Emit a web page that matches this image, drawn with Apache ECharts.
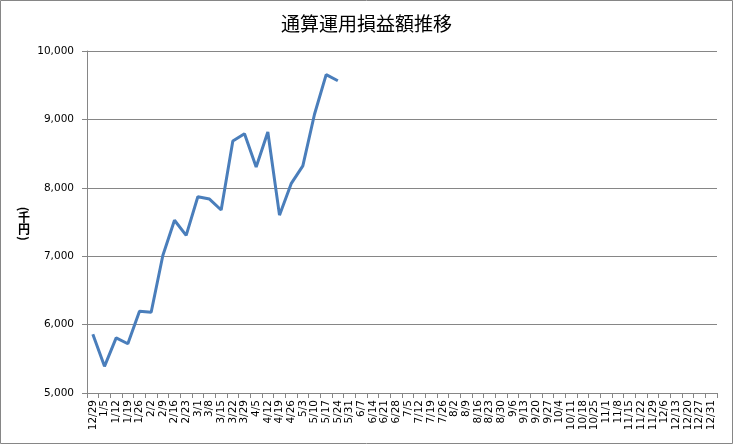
<!DOCTYPE html>
<html><head><meta charset="utf-8">
<script src="https://cdn.jsdelivr.net/npm/echarts@6/dist/echarts.min.js"></script>
<style>html,body{margin:0;padding:0;background:#fff}#c{width:733px;height:444px}</style>
</head><body><div id="c"></div>
<script>
const categories = ['12/29','1/5','1/12','1/19','1/26','2/2','2/9','2/16','2/23','3/1','3/8','3/15','3/22','3/29','4/5','4/12','4/19','4/26','5/3','5/10','5/17','5/24','5/31','6/7','6/14','6/21','6/28','7/5','7/12','7/19','7/26','8/2','8/9','8/16','8/23','8/30','9/6','9/13','9/20','9/27','10/4','10/11','10/18','10/25','11/1','11/8','11/15','11/22','11/29','12/6','12/13','12/20','12/27','12/31'];
const values = [5860,5390,5805,5720,6195,6180,7010,7525,7305,7870,7835,7675,8685,8790,8305,8815,7600,8060,8320,9075,9655,9565];
const yTicks = {min:5000, max:10000, interval:1000};
const titleText = '通算運用損益額推移';
const yNameChars = ['(', '千', '円', ')'];

const nameStyle = {fontFamily:'Noto Sans CJK JP',fontSize:12,fontWeight:'bold',fill:'#000',align:'center',verticalAlign:'middle'};
const nameYs = [209, 217.5, 229, 238.5];
const nameGraphics = yNameChars.map((ch,i)=>({
  type:'text', x:24, y:nameYs[i],
  rotation: (ch==='('||ch===')') ? -Math.PI/2 : 0,
  style:Object.assign({text:ch}, nameStyle)
}));

const chart = echarts.init(document.getElementById('c'));
chart.setOption({
  animation:false,
  title:{text:titleText,left:'center',top:9,textStyle:{fontFamily:'Noto Sans CJK JP',fontSize:19,fontWeight:'normal',color:'#000'}},
  graphic:[
    {type:'rect',shape:{x:0.5,y:0.5,width:732,height:443},style:{fill:'none',stroke:'#868686',lineWidth:1}}
  ].concat(nameGraphics),
  grid:{left:87,right:16,top:51,bottom:51},
  xAxis:{type:'category',data:categories,boundaryGap:true,
    axisLine:{lineStyle:{color:'#868686',width:1}},
    axisTick:{show:true,interval:0,length:5,inside:false,lineStyle:{color:'#868686'}},
    axisLabel:{interval:0,rotate:90,margin:7,fontSize:10.5,fontFamily:'DejaVu Sans',color:'#000'}},
  yAxis:{type:'value',min:yTicks.min,max:yTicks.max,interval:yTicks.interval,
    axisLine:{show:true,lineStyle:{color:'#868686',width:1}},
    axisTick:{show:true,length:5,lineStyle:{color:'#868686'}},
    splitLine:{lineStyle:{color:'#868686',width:1}},
    axisLabel:{margin:13,fontSize:10.5,fontFamily:'DejaVu Sans',color:'#000',
      formatter:v=>v.toLocaleString('en-US')}},
  series:[{type:'line',data:values,showSymbol:false,symbol:'none',
    lineStyle:{color:'#4a7ebb',width:3},itemStyle:{color:'#4a7ebb'}}]
});
</script></body></html>
